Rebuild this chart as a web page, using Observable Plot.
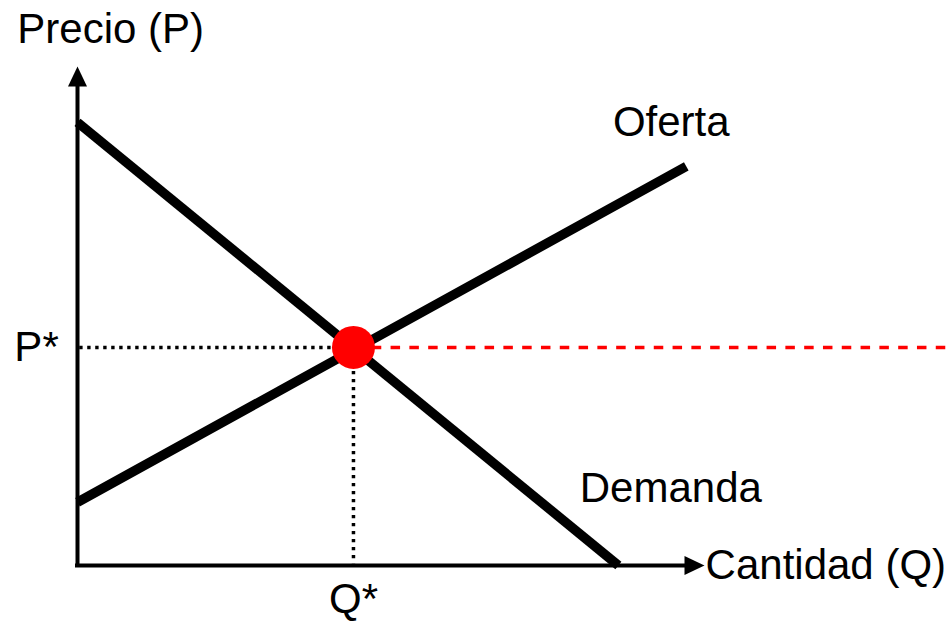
<!DOCTYPE html>
<html>
<head>
<meta charset="utf-8">
<script src="https://cdn.jsdelivr.net/npm/d3@7"></script>
<script src="https://cdn.jsdelivr.net/npm/@observablehq/plot@0.6"></script>
<style>
  html, body { margin: 0; padding: 0; background: #fff; }
</style>
</head>
<body>
<div id="chart"></div>
<script>
// Curves (quantity, price)
const demandQ = [0, 9.8];
const demandP = [10.16, 0];
const supplyQ = [0, 11.03];
const supplyP = [1.45, 9.15];

// Equilibrium
const eqQ = 5;
const eqP = 5;

// Axis extents
const qMax = 11.36;
const pMax = 11.44;
const qRight = 15.9;

// Labels
const labelText = ["Precio (P)", "Oferta", "Demanda"];
const labelQ = [-1.09, 9.7, 9.1];
const labelP = [11.97, 9.84, 1.445];

const demand = demandQ.map((q, i) => ({q, p: demandP[i]}));
const supply = supplyQ.map((q, i) => ({q, p: supplyP[i]}));
const labels = labelText.map((t, i) => ({t, q: labelQ[i], p: labelP[i]}));

const arrowHead = {
  draw(ctx) {
    ctx.moveTo(0, 0);
    ctx.lineTo(-9.5, 20);
    ctx.lineTo(9.5, 20);
    ctx.closePath();
  }
};

const font = "'Liberation Sans', Arial, sans-serif";
const fs = 42;

const chart = Plot.plot({
  width: 951,
  height: 622,
  marginLeft: 77,
  marginRight: 247,
  marginTop: 66,
  marginBottom: 57,
  style: {background: "white", overflow: "visible"},
  x: {domain: [0, qMax], axis: null},
  y: {domain: [0, pMax], axis: null},
  marks: [
    // axes
    Plot.ruleX([0], {y1: 0, y2: pMax - 0.3, stroke: "black", strokeWidth: 4, strokeLinecap: "square"}),
    Plot.ruleY([0], {x1: 0, x2: qMax - 0.3, stroke: "black", strokeWidth: 4, strokeLinecap: "square"}),
    Plot.dot([{q: 0, p: pMax}], {x: "q", y: "p", symbol: arrowHead, fill: "black", stroke: "none", r: 5}),
    Plot.dot([{q: qMax, p: 0}], {x: "q", y: "p", symbol: arrowHead, fill: "black", stroke: "none", r: 5, rotate: 90}),
    // curves
    Plot.line(demand, {x: "q", y: "p", stroke: "black", strokeWidth: 9.5, strokeLinecap: "butt"}),
    Plot.line(supply, {x: "q", y: "p", stroke: "black", strokeWidth: 9.5, strokeLinecap: "butt"}),
    // guides
    Plot.ruleY([eqP], {x1: 0.04, x2: eqQ, stroke: "black", strokeWidth: 3.5, strokeDasharray: "3.4,4.6"}),
    Plot.ruleX([eqQ], {y1: eqP, y2: 0.04, stroke: "black", strokeWidth: 3.5, strokeDasharray: "3.4,4.6"}),
    Plot.ruleY([eqP], {x1: eqQ, x2: qRight, stroke: "#ff0000", strokeWidth: 3.5, strokeDasharray: "9.5,9.3"}),
    // equilibrium point
    Plot.dot([{q: eqQ, p: eqP}], {x: "q", y: "p", r: 21.5, fill: "#ff0000", stroke: "none"}),
    // labels
    Plot.text(labels, {x: "q", y: "p", text: "t", textAnchor: "start", lineAnchor: "bottom", fontSize: fs, fontFamily: font, fill: "black"}),
    Plot.text(["Cantidad (Q)"], {x: qMax + 0.02, y: 0, text: d => d, textAnchor: "start", lineAnchor: "middle", fontSize: fs, fontFamily: font, fill: "black"}),
    Plot.text(["P*"], {x: -0.34, y: eqP, text: d => d, textAnchor: "end", lineAnchor: "middle", fontSize: fs, fontFamily: font, fill: "black"}),
    Plot.text(["Q*"], {x: eqQ, y: -1.1, text: d => d, textAnchor: "middle", lineAnchor: "bottom", fontSize: fs, fontFamily: font, fill: "black"})
  ]
});
document.getElementById("chart").appendChild(chart);
</script>
</body>
</html>
